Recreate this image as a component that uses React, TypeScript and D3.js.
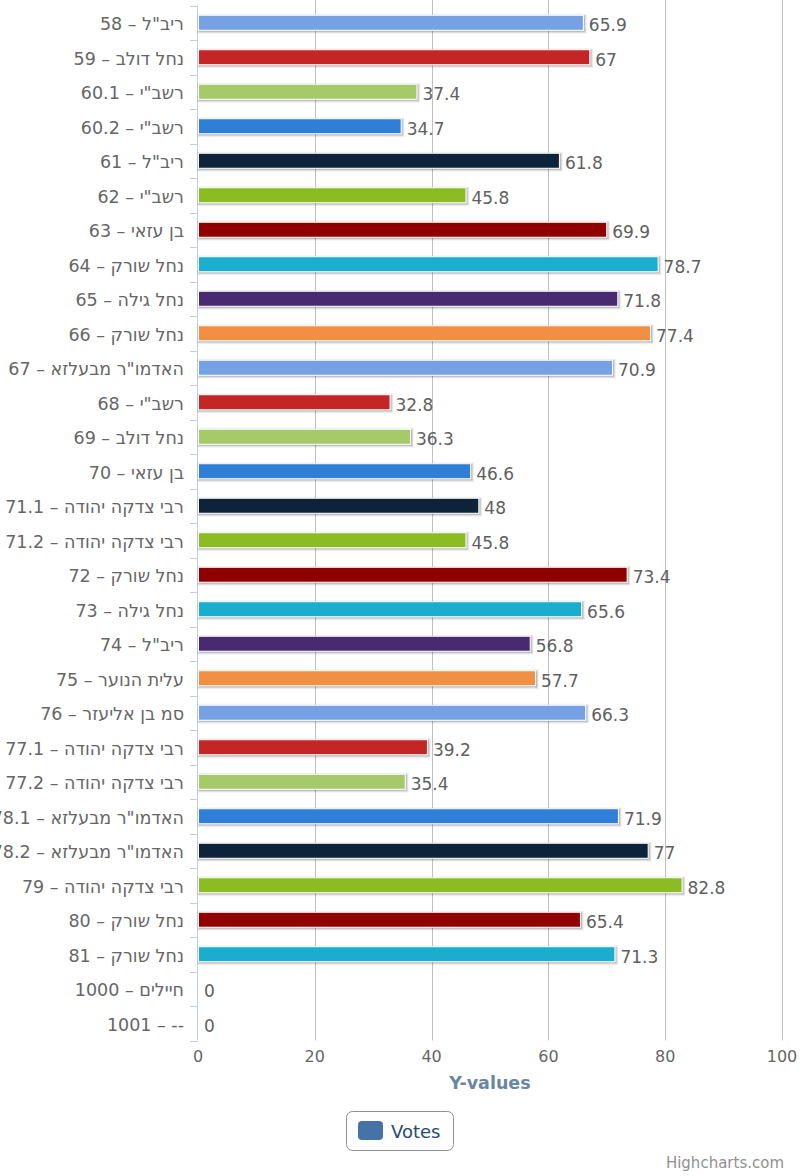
import React, { useEffect, useRef } from "react";
import * as d3 from "d3";

const codes: string[] = [
  "58", "59", "60.1", "60.2", "61", "62", "63", "64", "65", "66",
  "67", "68", "69", "70", "71.1", "71.2", "72", "73", "74", "75",
  "76", "77.1", "77.2", "78.1", "78.2", "79", "80", "81", "1000", "1001",
];

const names: string[] = [
  'ריב"ל', "נחל דולב", 'רשב"י', 'רשב"י', 'ריב"ל', 'רשב"י', "בן עזאי", "נחל שורק", "נחל גילה", "נחל שורק",
  'האדמו"ר מבעלזא', 'רשב"י', "נחל דולב", "בן עזאי", "רבי צדקה יהודה", "רבי צדקה יהודה", "נחל שורק", "נחל גילה", 'ריב"ל', "עלית הנוער",
  "סמ בן אליעזר", "רבי צדקה יהודה", "רבי צדקה יהודה", 'האדמו"ר מבעלזא', 'האדמו"ר מבעלזא', "רבי צדקה יהודה", "נחל שורק", "נחל שורק", "חיילים", "--",
];

const votes: number[] = [
  65.9, 67, 37.4, 34.7, 61.8, 45.8, 69.9, 78.7, 71.8, 77.4,
  70.9, 32.8, 36.3, 46.6, 48, 45.8, 73.4, 65.6, 56.8, 57.7,
  66.3, 39.2, 35.4, 71.9, 77, 82.8, 65.4, 71.3, 0, 0,
];

const palette: string[] = [
  "#77a1e5", "#c42525", "#a6c96a", "#2f7ed8", "#0d233a",
  "#8bbc21", "#910000", "#1aadce", "#492970", "#f28f43",
];

const xTicks: number[] = [0, 20, 40, 60, 80, 100];

const FONT = '"DejaVu Sans", Verdana, sans-serif';

const App: React.FC = () => {
  const svgRef = useRef<SVGSVGElement>(null);

  useEffect(() => {
    if (!svgRef.current) return;
    const svg = d3.select(svgRef.current);
    svg.selectAll("*").remove();

    const width = 800;
    const height = 1176;
    const left = 198;
    const right = 782;
    const top = 5.5;
    const bottom = 1040.5;

    svg.attr("width", width).attr("height", height);

    const x = d3.scaleLinear().domain([0, 100]).range([left, right]);
    const y = d3.scaleBand<string>().domain(codes).range([top, bottom]);
    const barH = 15;

    // grid lines
    svg
      .append("g")
      .selectAll("line")
      .data(xTicks.slice(1))
      .join("line")
      .attr("x1", (d) => Math.round(x(d)) + 0.5)
      .attr("x2", (d) => Math.round(x(d)) + 0.5)
      .attr("y1", 0)
      .attr("y2", bottom)
      .attr("stroke", "#c0c0c0")
      .attr("stroke-width", 1);

    // category axis line and ticks
    svg
      .append("line")
      .attr("x1", left - 0.5)
      .attr("x2", left - 0.5)
      .attr("y1", top)
      .attr("y2", bottom)
      .attr("stroke", "#c0d0e0");

    const boundaries = codes.map((c) => y(c) as number).concat([bottom]);
    svg
      .append("g")
      .selectAll("line")
      .data(boundaries)
      .join("line")
      .attr("x1", left - 8)
      .attr("x2", left)
      .attr("y1", (d) => Math.round(d) + 0.5)
      .attr("y2", (d) => Math.round(d) + 0.5)
      .attr("stroke", "#c0d0e0");

    // category labels
    svg
      .append("g")
      .selectAll("text")
      .data(codes)
      .join("text")
      .attr("x", 184)
      .attr("y", (d) => (y(d) as number) + y.bandwidth() / 2 + 7.5)
      .attr("text-anchor", "end")
      .style("font-family", FONT)
      .style("font-size", "17.5px")
      .style("fill", "#666666")
      .text((d, i) => `${d} – ${names[i]}`);

    // bars with shadow
    const bars = svg.append("g");
    codes.forEach((c, i) => {
      const v = votes[i];
      if (v <= 0) return;
      const by = (y(c) as number) + y.bandwidth() / 2 - barH / 2;
      const bx = x(0) + 0.5;
      const bw = x(v) - x(0);
      [
        { w: 5, o: 0.05 },
        { w: 3, o: 0.1 },
        { w: 1, o: 0.15 },
      ].forEach((s) => {
        bars
          .append("rect")
          .attr("x", bx + 1)
          .attr("y", by + 1)
          .attr("width", bw)
          .attr("height", barH)
          .attr("fill", "none")
          .attr("stroke", "#000")
          .attr("stroke-opacity", s.o)
          .attr("stroke-width", s.w);
      });
      bars
        .append("rect")
        .attr("x", bx)
        .attr("y", by)
        .attr("width", bw)
        .attr("height", barH)
        .attr("fill", palette[i % palette.length])
        .attr("stroke", "#ffffff")
        .attr("stroke-width", 1);
    });

    // data labels
    svg
      .append("g")
      .selectAll("text")
      .data(votes)
      .join("text")
      .attr("x", (d) => x(d) + 6)
      .attr("y", (_d, i) => (y(codes[i]) as number) + y.bandwidth() / 2 + 8.5)
      .style("font-family", FONT)
      .style("font-size", "17px")
      .style("fill", "#606060")
      .text((d) => String(d));

    // value axis labels
    svg
      .append("g")
      .selectAll("text")
      .data(xTicks)
      .join("text")
      .attr("x", (d) => x(d))
      .attr("y", 1062)
      .attr("text-anchor", "middle")
      .style("font-family", FONT)
      .style("font-size", "16px")
      .style("fill", "#666666")
      .text((d) => String(d));

    svg
      .append("text")
      .attr("x", (left + right) / 2)
      .attr("y", 1089)
      .attr("text-anchor", "middle")
      .style("font-family", FONT)
      .style("font-size", "17.5px")
      .style("font-weight", "bold")
      .style("fill", "#6a86a3")
      .text("Y-values");

    // legend
    const legend = svg.append("g");
    legend
      .append("rect")
      .attr("x", 346.5)
      .attr("y", 1111.5)
      .attr("width", 107)
      .attr("height", 39)
      .attr("rx", 6)
      .attr("fill", "#ffffff")
      .attr("stroke", "#909090");
    legend
      .append("rect")
      .attr("x", 358)
      .attr("y", 1121)
      .attr("width", 25)
      .attr("height", 19)
      .attr("rx", 4)
      .attr("fill", "#4572a7");
    legend
      .append("text")
      .attr("x", 391)
      .attr("y", 1138)
      .style("font-family", FONT)
      .style("font-size", "18px")
      .style("fill", "#274b6d")
      .text("Votes");

    svg
      .append("text")
      .attr("x", 784)
      .attr("y", 1168)
      .attr("text-anchor", "end")
      .style("font-family", FONT)
      .style("font-size", "15px")
      .style("fill", "#909090")
      .text("Highcharts.com");
  }, []);

  return (
    <div style={{ position: "absolute", left: 0, top: 0, width: 800, height: 1176, overflow: "hidden", background: "#fff" }}>
      <svg ref={svgRef} style={{ display: "block" }}></svg>
    </div>
  );
};

export default App;
